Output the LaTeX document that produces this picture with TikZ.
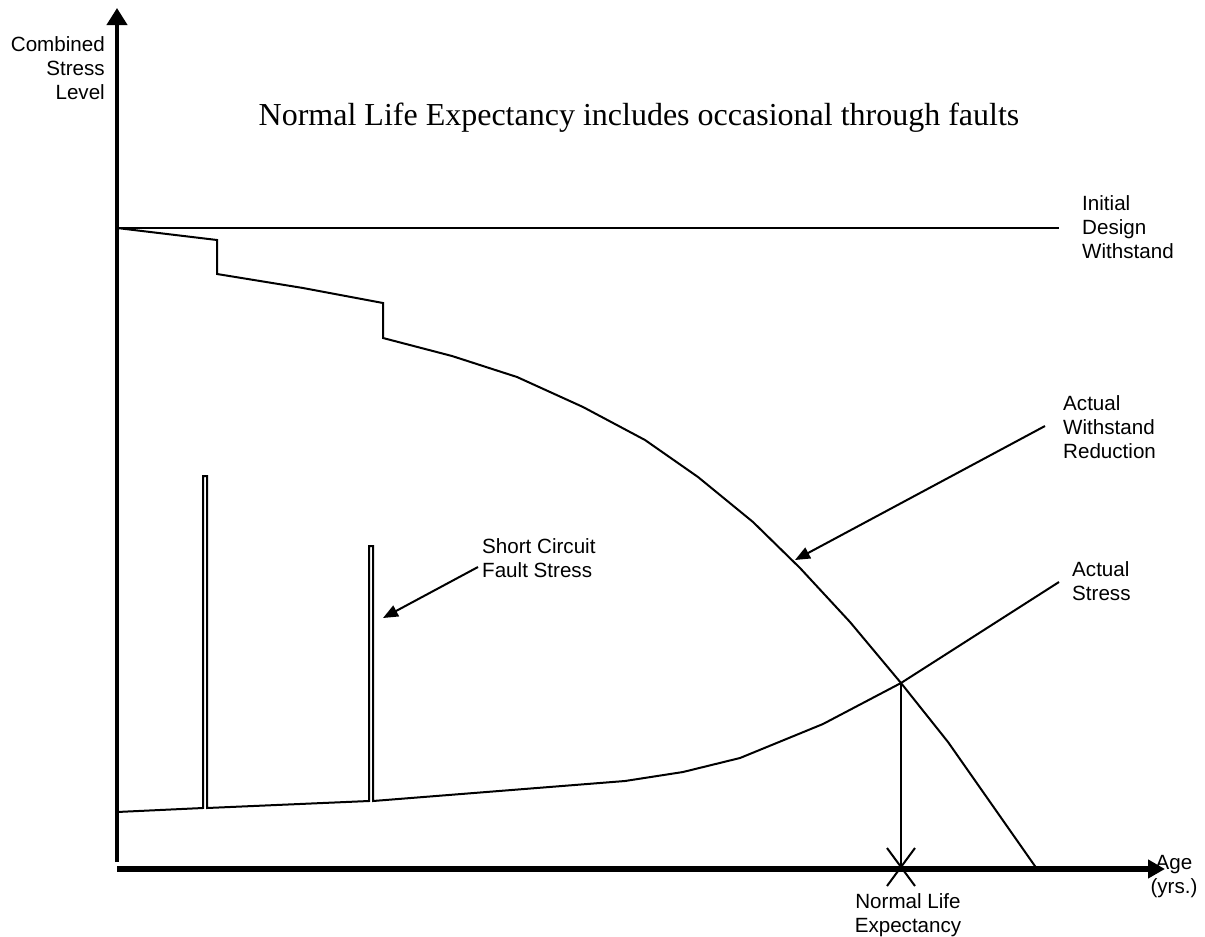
\documentclass[tikz,border=0pt]{standalone}
\usepackage{fontspec}
\setmainfont{Liberation Sans}
\newfontfamily\titleface{Liberation Serif}
\usetikzlibrary{arrows.meta,calc}
\begin{document}
\begin{tikzpicture}[x=1pt,y=-1pt,
  curve/.style={line width=2pt, line join=miter},
  pointer/.style={line width=2pt, -{Triangle[length=15pt,width=12pt]}},
  lbl/.style={font=\fontsize{20.6}{24.2}\selectfont, inner sep=0pt, align=left},
  heading/.style={font=\titleface\fontsize{32}{38}\selectfont, inner sep=0pt}]
\useasboundingbox (0,0) rectangle (1205,937);

% axes
\coordinate (origin) at (117,862);
\coordinate (ytop) at (117,8);
\coordinate (xstart) at (117,869);
\coordinate (xend) at (1165,869);
\draw[line width=4pt, -{Triangle[length=17pt,width=20pt]}] (origin) -- (ytop);
\draw[line width=6pt, -{Triangle[length=17pt,width=18pt]}] (xstart) -- (xend);

% initial design withstand
\coordinate (iw0) at (117,228);
\coordinate (iw1) at (1059,228);
\draw[curve] (iw0) -- (iw1);

% actual withstand, stepping down at each fault
\draw[curve] (iw0) -- (217,240) -- (217,274) -- (303,288) -- (383,303) -- (383,338)
  -- (452,356) -- (517,377) -- (583,407) -- (645,440) -- (698,477) -- (753,522)
  -- (800,568) -- (850,622) -- (901,683) -- (948,742) -- (1037,869);

% actual stress with two short-circuit spikes
\coordinate (cross) at (901,683);
\draw[curve] (117,812) -- (203,808) -- (203,476) -- (207,476) -- (207,808)
  -- (369,801) -- (369,546) -- (373,546) -- (373,801)
  -- (625,781) -- (683,772) -- (740,758) -- (823,724) -- (cross) -- (1059,582);

% end of life marker
\coordinate (life) at (901,867);
\draw[curve] (cross) -- (life);
\draw[curve] ($(life)+(-14,-19)$) -- ($(life)+(14,19)$);
\draw[curve] ($(life)+(14,-19)$) -- ($(life)+(-14,19)$);

% pointers
\coordinate (scFrom) at (478,567);
\coordinate (scTo) at (383,618);
\draw[pointer] (scFrom) -- (scTo);
\coordinate (awFrom) at (1045,426);
\coordinate (awTo) at (795,560);
\draw[pointer] (awFrom) -- (awTo);

% labels
\node[heading, anchor=base] (title) at (639,125) {Normal Life Expectancy includes occasional through faults};
\node[lbl, align=right, anchor=north east] (ylabel) at (105,36) {Combined\\Stress\\Level};
\node[lbl, anchor=north west] (initial) at (1082,195) {Initial\\Design\\Withstand};
\node[lbl, anchor=north west] (reduction) at (1063,395) {Actual\\Withstand\\Reduction};
\node[lbl, anchor=north west] (stress) at (1072,561) {Actual\\Stress};
\node[lbl, anchor=north west] (fault) at (482,538) {Short Circuit\\Fault Stress};
\node[lbl, align=center, anchor=north] (expect) at (908,893) {Normal Life\\Expectancy};
\node[lbl, align=center, anchor=north] (age) at (1174,855) {Age\\(yrs.)};
\end{tikzpicture}
\end{document}
